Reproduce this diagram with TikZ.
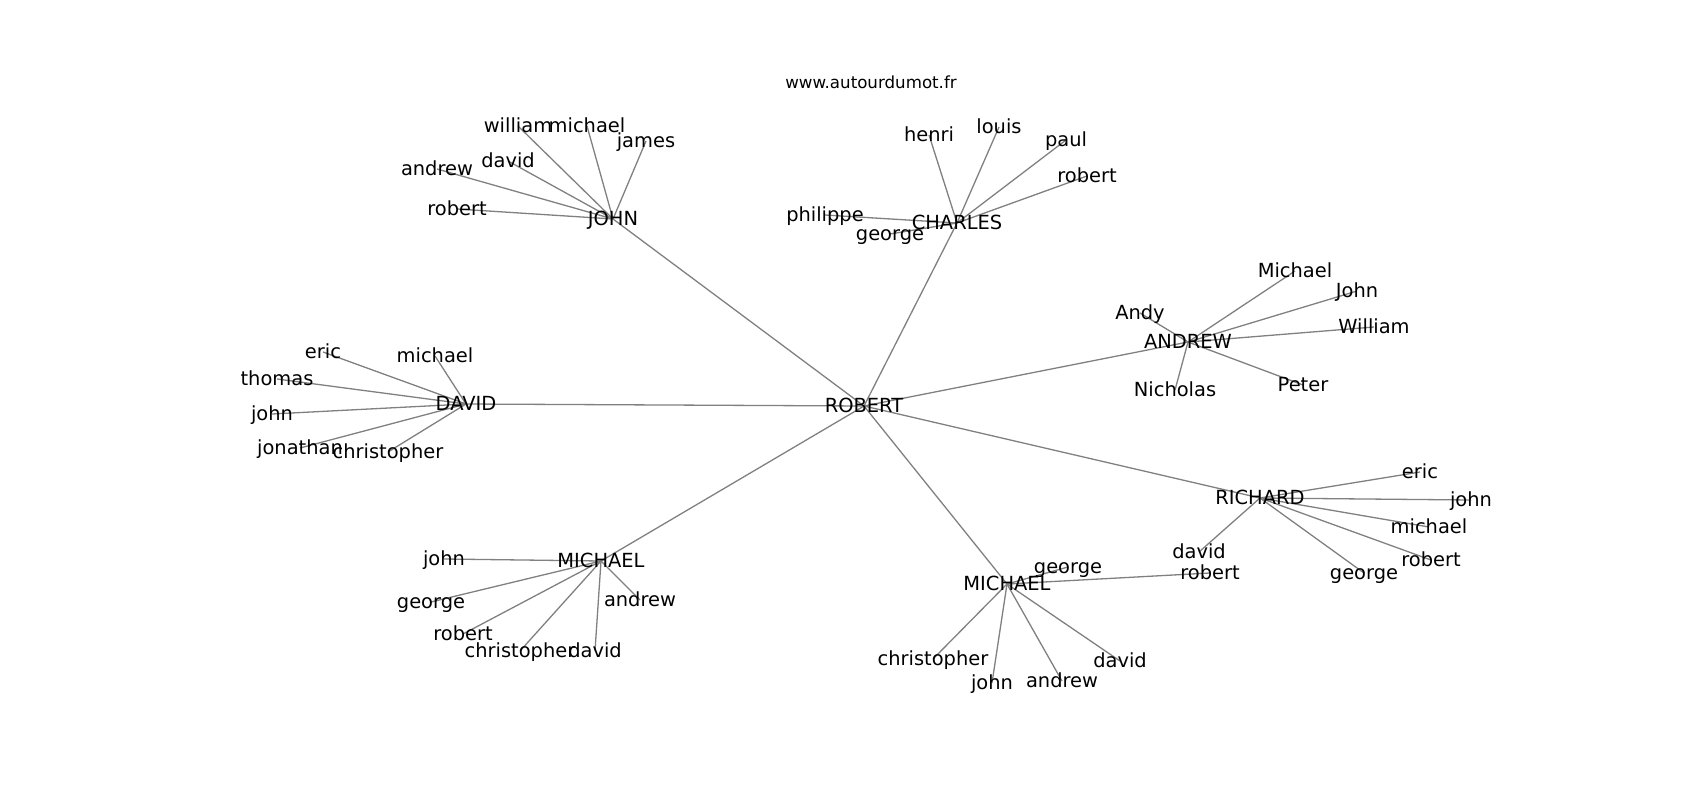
\documentclass[tikz,border=0pt]{standalone}
\usepackage{fontspec}
\setmainfont{DejaVu Sans}
\usetikzlibrary{backgrounds}
\begin{document}
\begin{tikzpicture}[x=1pt,y=-1pt,
  lbl/.style={inner sep=0pt, outer sep=0pt, text height=16pt, text depth=3pt,
    font=\fontsize{19.44}{22}\selectfont, text=black},
  ttl/.style={inner sep=0pt, anchor=base, font=\fontsize{16.67}{19}\selectfont},
  edge/.style={draw=gray, line width=1.3pt}]
\useasboundingbox (0,0) rectangle (1700,800);
\node[ttl] (title) at (871,88.5) {www.autourdumot.fr};
% hubs
\node[lbl] (R) at (864,406) {ROBERT};
\node[lbl] (J) at (613,219) {JOHN};
\node[lbl] (C) at (957,223) {CHARLES};
\node[lbl] (A) at (1188,342) {ANDREW};
\node[lbl] (D) at (466,404) {DAVID};
\node[lbl] (ML) at (601,561) {MICHAEL};
\node[lbl] (MR) at (1007,584) {MICHAEL};
\node[lbl] (RI) at (1260,498) {RICHARD};
% JOHN leaves
\node[lbl] (j1) at (457,209) {robert};
\node[lbl] (j2) at (437,169) {andrew};
\node[lbl] (j3) at (508,161) {david};
\node[lbl] (j4) at (518,126) {william};
\node[lbl] (j5) at (587,126) {michael};
\node[lbl] (j6) at (646,141) {james};
% CHARLES leaves
\node[lbl] (c1) at (929,135) {henri};
\node[lbl] (c2) at (999,127) {louis};
\node[lbl] (c3) at (1066,140) {paul};
\node[lbl] (c4) at (1087,176) {robert};
\node[lbl] (c5) at (825,215) {philippe};
\node[lbl] (c6) at (890,234) {george};
% ANDREW leaves
\node[lbl] (a1) at (1295,271) {Michael};
\node[lbl] (a2) at (1357,291) {John};
\node[lbl] (a3) at (1374,327) {William};
\node[lbl] (a4) at (1140,313) {Andy};
\node[lbl] (a5) at (1303,385) {Peter};
\node[lbl] (a6) at (1175,390) {Nicholas};
% DAVID leaves
\node[lbl] (d1) at (323,352) {eric};
\node[lbl] (d2) at (277,379) {thomas};
\node[lbl] (d3) at (272,414) {john};
\node[lbl] (d4) at (300,448) {jonathan};
\node[lbl] (d5) at (388,452) {christopher};
\node[lbl] (d6) at (435,356) {michael};
% MICHAEL left leaves
\node[lbl] (l1) at (444,559) {john};
\node[lbl] (l2) at (431,602) {george};
\node[lbl] (l3) at (463,634) {robert};
\node[lbl] (l4) at (520,651) {christopher};
\node[lbl] (l5) at (595,651) {david};
\node[lbl] (l6) at (640,600) {andrew};
% MICHAEL right leaves
\node[lbl] (m1) at (1068,567) {george};
\node[lbl] (m2) at (1210,573) {robert};
\node[lbl] (m3) at (933,659) {christopher};
\node[lbl] (m4) at (992,683) {john};
\node[lbl] (m5) at (1062,681) {andrew};
\node[lbl] (m6) at (1120,661) {david};
% RICHARD leaves
\node[lbl] (r1) at (1420,472) {eric};
\node[lbl] (r2) at (1471,500) {john};
\node[lbl] (r3) at (1429,527) {michael};
\node[lbl] (r4) at (1431,560) {robert};
\node[lbl] (r5) at (1364,573) {george};
\node[lbl] (r6) at (1199,552) {david};
\begin{scope}[on background layer]
\foreach \h in {J,C,A,D,ML,MR,RI} \draw[edge] (R.center) -- (\h.center);
\foreach \l in {j1,j2,j3,j4,j5,j6} \draw[edge] (J.center) -- (\l.center);
\foreach \l in {c1,c2,c3,c4,c5,c6} \draw[edge] (C.center) -- (\l.center);
\foreach \l in {a1,a2,a3,a4,a5,a6} \draw[edge] (A.center) -- (\l.center);
\foreach \l in {d1,d2,d3,d4,d5,d6} \draw[edge] (D.center) -- (\l.center);
\foreach \l in {l1,l2,l3,l4,l5,l6} \draw[edge] (ML.center) -- (\l.center);
\foreach \l in {m1,m2,m3,m4,m5,m6} \draw[edge] (MR.center) -- (\l.center);
\foreach \l in {r1,r2,r3,r4,r5,r6} \draw[edge] (RI.center) -- (\l.center);
\end{scope}
\end{tikzpicture}
\end{document}
